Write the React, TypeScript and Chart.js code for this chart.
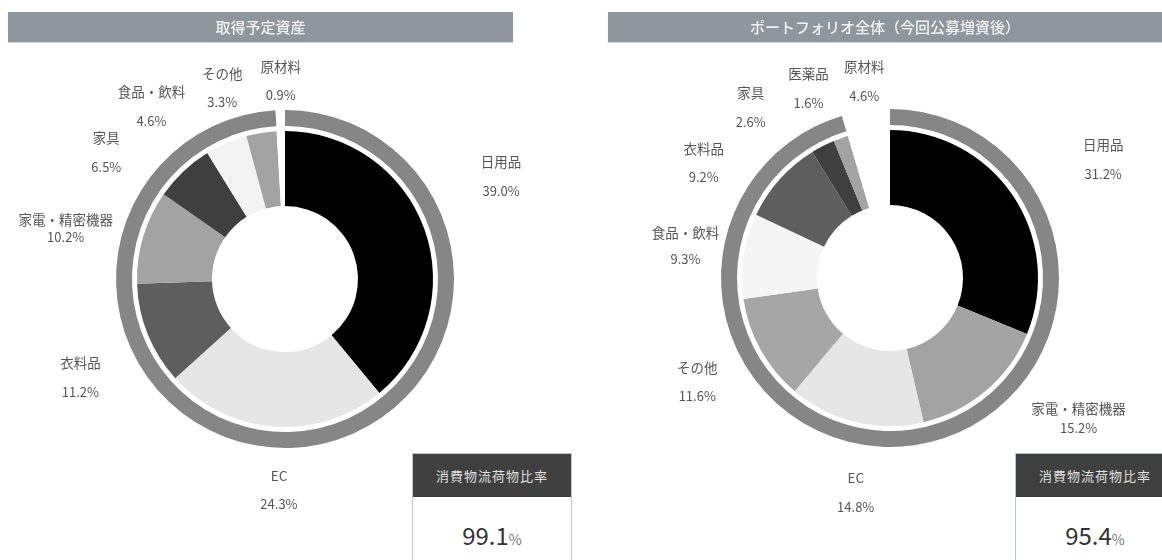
import React, { useEffect, useRef } from "react";
import { Chart, registerables } from "chart.js";
Chart.register(...registerables);

// ---------- data ----------
const leftTitle = "取得予定資産";
const leftCategories = ["日用品", "EC", "衣料品", "家電・精密機器", "家具", "食品・飲料", "その他", "原材料"];
const leftValues = [39.0, 24.3, 11.2, 10.2, 6.5, 4.6, 3.3, 0.9];
const leftColors = ["#000000", "#e6e6e6", "#5e5e5e", "#a3a3a3", "#3f3f3f", "#f3f3f3", "#a3a3a3", "#ffffff"];
const leftRatio = 99.1;

const rightTitle = "ポートフォリオ全体（今回公募増資後）";
const rightCategories = ["日用品", "家電・精密機器", "EC", "その他", "食品・飲料", "衣料品", "家具", "医薬品", "原材料"];
const rightValues = [31.2, 15.2, 14.8, 11.6, 9.3, 9.2, 2.6, 1.6, 4.6];
const rightColors = ["#000000", "#a3a3a3", "#e6e6e6", "#a6a6a6", "#f5f5f5", "#5e5e5e", "#3f3f3f", "#a3a3a3", "#ffffff"];
const rightRatio = 95.4;

const ratioTitle = "消費物流荷物比率";

// label layout: [angle nudge (deg) from slice mid-angle, distance from centre, line gap]
const leftLabelLayout = [
  [-5.5, 239, 29], [-2.5, 211, 29], [-3.7, 227, 29], [-3.6, 225, 18],
  [-11.3, 219, 29], [-14.4, 218, 29], [-9, 201, 29], [0.4, 198, 29],
];
const rightLabelLayout = [
  [4.8, 244, 29], [-12.9, 235, 19], [-4.4, 217, 29], [0.7, 219, 29], [0.4, 207, 26],
  [-10.1, 219, 29], [-12.3, 220, 29], [-3.9, 206, 29], [0.8, 198, 29],
];

const FONT = "'Noto Sans CJK JP', 'Noto Sans', sans-serif";

const labelPlugin = {
  id: "sliceLabels",
  afterDraw(chart: any) {
    const opts = chart.options.plugins.sliceLabels;
    if (!opts) return;
    const meta = chart.getDatasetMeta(2);
    const ctx = chart.ctx;
    ctx.save();
    ctx.fillStyle = "#555555";
    ctx.textAlign = "center";
    ctx.textBaseline = "middle";
    meta.data.forEach((arc: any, i: number) => {
      const lay = opts.layout[i];
      const mid = (arc.startAngle + arc.endAngle) / 2 + (lay[0] * Math.PI) / 180;
      const x = arc.x + lay[1] * Math.cos(mid);
      const y = arc.y + lay[1] * Math.sin(mid);
      ctx.font = `13.5px ${FONT}`;
      ctx.fillText(opts.names[i], x, y - lay[2] / 2);
      ctx.font = `13px ${FONT}`;
      ctx.fillText(opts.values[i].toFixed(1) + "%", x, y + lay[2] / 2);
    });
    ctx.restore();
  },
};

function Donut(props: {
  categories: string[];
  values: number[];
  colors: string[];
  ratio: number;
  layout: number[][];
  width: number;
  height: number;
  padding: { left: number; right: number; top: number; bottom: number };
}) {
  const ref = useRef<HTMLCanvasElement>(null);
  useEffect(() => {
    if (!ref.current) return;
    const chart = new Chart(ref.current, {
      type: "doughnut",
      data: {
        labels: props.categories,
        datasets: [
          {
            data: [props.ratio, 100 - props.ratio],
            backgroundColor: ["#868686", "rgba(0,0,0,0)"],
            borderColor: ["#868686", "rgba(0,0,0,0)"],
            borderWidth: 0,
            weight: 16,
          } as any,
          {
            data: [1],
            backgroundColor: ["rgba(0,0,0,0)"],
            borderWidth: 0,
            weight: 5,
          } as any,
          {
            data: props.values,
            backgroundColor: props.colors,
            borderColor: props.colors,
            borderWidth: 0,
            weight: 75,
          } as any,
        ],
      },
      options: {
        responsive: false,
        animation: false,
        events: [],
        cutout: "43.2%",
        layout: { padding: props.padding },
        elements: { arc: { borderWidth: 0, hoverBorderWidth: 0, hoverOffset: 0, offset: 0 } as any },
        plugins: {
          legend: { display: false },
          tooltip: { enabled: false },
          sliceLabels: { names: props.categories, values: props.values, layout: props.layout },
        } as any,
      },
      plugins: [labelPlugin],
    });
    return () => chart.destroy();
  }, []);
  return <canvas ref={ref} width={props.width} height={props.height} style={{ display: "block" }} />;
}

function Header(props: { text: string; left: number; width: number }) {
  return (
    <div
      style={{
        position: "absolute",
        left: props.left,
        top: 12,
        width: props.width,
        height: 30,
        background: "#8f979e",
        color: "#f2f2f2",
        fontFamily: FONT,
        fontSize: 15,
        fontWeight: 500,
        lineHeight: "30px",
        textAlign: "center",
        boxShadow: "0 1px 1px rgba(0,0,0,0.15)",
      }}
    >
      {props.text}
    </div>
  );
}

function RatioBox(props: { left: number; value: number; borderColor: string }) {
  return (
    <div
      style={{
        position: "absolute",
        left: props.left,
        top: 453,
        width: 160,
        height: 130,
        background: "#ffffff",
        border: `1px solid ${props.borderColor}`,
        boxSizing: "border-box",
        fontFamily: FONT,
      }}
    >
      <div
        style={{
          height: 43,
          background: "#3f3f3f",
          color: "#e0e0e0",
          fontSize: 13,
          lineHeight: "43px",
          textAlign: "center",
          letterSpacing: 1,
        }}
      >
        {ratioTitle}
      </div>
      <div style={{ textAlign: "center", marginTop: 20, color: "#333333" }}>
        <span style={{ fontSize: 24 }}>{props.value.toFixed(1)}</span>
        <span style={{ fontSize: 14, color: "#777777" }}>%</span>
      </div>
    </div>
  );
}

export default function App() {
  return (
    <div
      style={{
        position: "absolute",
        left: 0,
        top: 0,
        width: 1162,
        height: 560,
        overflow: "hidden",
        background: "#ffffff",
      }}
    >
      <div style={{ position: "absolute", left: 0, top: 0 }}>
        <Donut
          categories={leftCategories}
          values={leftValues}
          colors={leftColors}
          ratio={leftRatio}
          layout={leftLabelLayout}
          width={580}
          height={560}
          padding={{ left: 116, right: 126, top: 110, bottom: 112 }}
        />
      </div>
      <div style={{ position: "absolute", left: 580, top: 0 }}>
        <Donut
          categories={rightCategories}
          values={rightValues}
          colors={rightColors}
          ratio={rightRatio}
          layout={rightLabelLayout}
          width={582}
          height={560}
          padding={{ left: 141, right: 103, top: 109, bottom: 113 }}
        />
      </div>
      <Header text={leftTitle} left={8} width={505} />
      <Header text={rightTitle} left={608} width={554} />
      <RatioBox left={412} value={leftRatio} borderColor="#c6c6c6" />
      <RatioBox left={1015} value={rightRatio} borderColor="#b9c3d0" />
    </div>
  );
}
